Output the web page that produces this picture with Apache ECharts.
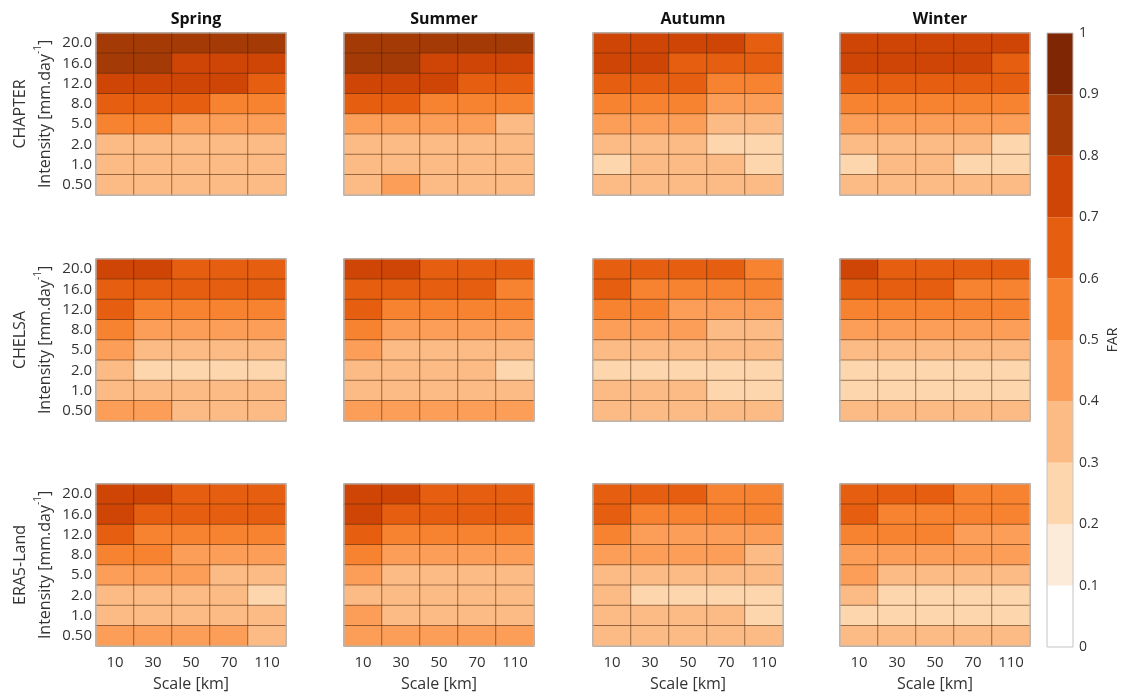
<!DOCTYPE html>
<html>
<head>
<meta charset="utf-8">
<script src="https://cdn.jsdelivr.net/npm/echarts@6/dist/echarts.min.js"></script>
<style>
  html, body { margin: 0; padding: 0; background: #fff; }
  #chart { width: 1121px; height: 698px; }
</style>
</head>
<body>
<div id="chart"></div>
<script>
// Axis categories
const scales = ['10', '30', '50', '70', '110'];
// Intensity rows listed from top (20.0) to bottom (0.50)
const intensities = ['20.0', '16.0', '12.0', '8.0', '5.0', '2.0', '1.0', '0.50'];
const seasons = ['Spring', 'Summer', 'Autumn', 'Winter'];
const products = ['CHAPTER', 'CHELSA', 'ERA5-Land'];

// FAR colour classes (0 to 1 in steps of 0.1)
const farEdges = [0, 0.1, 0.2, 0.3, 0.4, 0.5, 0.6, 0.7, 0.8, 0.9, 1];
const farColors = ['#ffffff', '#fdebd9', '#fdd6ae', '#fcbb84', '#fc9e57',
                   '#f7822f', '#e65e0f', '#cf4506', '#a43a05', '#7f2704'];

// FAR values, one row per intensity (top to bottom), one column per scale
const chapterSpring = [
  [0.85, 0.85, 0.85, 0.85, 0.85],
  [0.85, 0.85, 0.75, 0.75, 0.75],
  [0.75, 0.75, 0.75, 0.75, 0.65],
  [0.65, 0.65, 0.65, 0.55, 0.55],
  [0.55, 0.55, 0.45, 0.45, 0.45],
  [0.35, 0.35, 0.35, 0.35, 0.35],
  [0.35, 0.35, 0.35, 0.35, 0.35],
  [0.35, 0.35, 0.35, 0.35, 0.35]
];
const chapterSummer = [
  [0.85, 0.85, 0.85, 0.85, 0.85],
  [0.85, 0.85, 0.75, 0.75, 0.75],
  [0.75, 0.75, 0.75, 0.65, 0.65],
  [0.65, 0.65, 0.55, 0.55, 0.55],
  [0.45, 0.45, 0.45, 0.45, 0.35],
  [0.35, 0.35, 0.35, 0.35, 0.35],
  [0.35, 0.35, 0.35, 0.35, 0.35],
  [0.35, 0.45, 0.35, 0.35, 0.35]
];
const chapterAutumn = [
  [0.75, 0.75, 0.75, 0.75, 0.65],
  [0.75, 0.75, 0.65, 0.65, 0.65],
  [0.65, 0.65, 0.65, 0.55, 0.55],
  [0.55, 0.55, 0.55, 0.45, 0.45],
  [0.45, 0.45, 0.45, 0.35, 0.35],
  [0.35, 0.35, 0.35, 0.25, 0.25],
  [0.25, 0.35, 0.35, 0.35, 0.25],
  [0.35, 0.35, 0.35, 0.35, 0.35]
];
const chapterWinter = [
  [0.75, 0.75, 0.75, 0.75, 0.75],
  [0.75, 0.75, 0.75, 0.75, 0.65],
  [0.65, 0.65, 0.65, 0.65, 0.65],
  [0.55, 0.55, 0.55, 0.55, 0.55],
  [0.45, 0.45, 0.45, 0.45, 0.45],
  [0.35, 0.35, 0.35, 0.35, 0.25],
  [0.25, 0.35, 0.35, 0.25, 0.25],
  [0.35, 0.35, 0.35, 0.35, 0.35]
];
const chelsaSpring = [
  [0.75, 0.75, 0.65, 0.65, 0.65],
  [0.65, 0.65, 0.65, 0.65, 0.65],
  [0.65, 0.55, 0.55, 0.55, 0.55],
  [0.55, 0.45, 0.45, 0.45, 0.45],
  [0.45, 0.35, 0.35, 0.35, 0.35],
  [0.35, 0.25, 0.25, 0.25, 0.25],
  [0.35, 0.35, 0.35, 0.35, 0.35],
  [0.45, 0.45, 0.35, 0.35, 0.35]
];
const chelsaSummer = [
  [0.75, 0.75, 0.65, 0.65, 0.65],
  [0.65, 0.65, 0.65, 0.65, 0.55],
  [0.65, 0.55, 0.55, 0.55, 0.55],
  [0.55, 0.45, 0.45, 0.45, 0.45],
  [0.45, 0.35, 0.35, 0.35, 0.35],
  [0.35, 0.35, 0.35, 0.35, 0.25],
  [0.35, 0.35, 0.35, 0.35, 0.35],
  [0.45, 0.45, 0.45, 0.45, 0.45]
];
const chelsaAutumn = [
  [0.65, 0.65, 0.65, 0.65, 0.55],
  [0.65, 0.55, 0.55, 0.55, 0.55],
  [0.55, 0.55, 0.45, 0.45, 0.45],
  [0.45, 0.45, 0.45, 0.35, 0.35],
  [0.35, 0.35, 0.35, 0.35, 0.35],
  [0.25, 0.25, 0.25, 0.25, 0.25],
  [0.35, 0.35, 0.35, 0.25, 0.25],
  [0.35, 0.35, 0.35, 0.35, 0.35]
];
const chelsaWinter = [
  [0.75, 0.65, 0.65, 0.65, 0.65],
  [0.65, 0.65, 0.65, 0.55, 0.55],
  [0.55, 0.55, 0.55, 0.55, 0.55],
  [0.45, 0.45, 0.45, 0.45, 0.45],
  [0.35, 0.35, 0.35, 0.35, 0.35],
  [0.25, 0.25, 0.25, 0.25, 0.25],
  [0.25, 0.25, 0.25, 0.25, 0.25],
  [0.35, 0.35, 0.35, 0.35, 0.35]
];
const era5Spring = [
  [0.75, 0.75, 0.65, 0.65, 0.65],
  [0.75, 0.65, 0.65, 0.65, 0.65],
  [0.65, 0.55, 0.55, 0.55, 0.55],
  [0.55, 0.55, 0.45, 0.45, 0.45],
  [0.45, 0.45, 0.45, 0.35, 0.35],
  [0.35, 0.35, 0.35, 0.35, 0.25],
  [0.35, 0.35, 0.35, 0.35, 0.35],
  [0.45, 0.45, 0.45, 0.45, 0.35]
];
const era5Summer = [
  [0.75, 0.75, 0.65, 0.65, 0.65],
  [0.75, 0.65, 0.65, 0.65, 0.65],
  [0.65, 0.55, 0.55, 0.55, 0.55],
  [0.55, 0.45, 0.45, 0.45, 0.45],
  [0.45, 0.35, 0.35, 0.35, 0.35],
  [0.35, 0.35, 0.35, 0.35, 0.35],
  [0.45, 0.35, 0.35, 0.35, 0.35],
  [0.45, 0.45, 0.45, 0.45, 0.45]
];
const era5Autumn = [
  [0.65, 0.65, 0.65, 0.55, 0.55],
  [0.65, 0.55, 0.55, 0.55, 0.55],
  [0.55, 0.45, 0.45, 0.45, 0.45],
  [0.45, 0.45, 0.45, 0.45, 0.35],
  [0.35, 0.35, 0.35, 0.35, 0.35],
  [0.35, 0.25, 0.25, 0.25, 0.25],
  [0.35, 0.35, 0.35, 0.35, 0.25],
  [0.35, 0.35, 0.35, 0.35, 0.35]
];
const era5Winter = [
  [0.65, 0.65, 0.65, 0.55, 0.55],
  [0.65, 0.55, 0.55, 0.55, 0.55],
  [0.55, 0.55, 0.55, 0.45, 0.45],
  [0.45, 0.45, 0.45, 0.45, 0.45],
  [0.45, 0.35, 0.35, 0.35, 0.35],
  [0.35, 0.25, 0.25, 0.25, 0.25],
  [0.25, 0.25, 0.25, 0.25, 0.25],
  [0.35, 0.35, 0.35, 0.35, 0.35]
];

const panels = [
  [chapterSpring, chapterSummer, chapterAutumn, chapterWinter],
  [chelsaSpring, chelsaSummer, chelsaAutumn, chelsaWinter],
  [era5Spring, era5Summer, era5Autumn, era5Winter]
];

// Panel layout (pixels)
const colLeft = [96, 344, 593, 840];
const rowTop = [33, 259, 484];
const panelW = 190, panelH = 162;
const FONT = 'Open Sans';
const TEXT = '#333333';

const grids = [], xAxes = [], yAxes = [], series = [], titles = [], graphics = [];

products.forEach((prod, r) => {
  seasons.forEach((season, c) => {
    const gi = grids.length;
    grids.push({ left: colLeft[c], top: rowTop[r], width: panelW, height: panelH,
                 containLabel: false });
    xAxes.push({
      type: 'category', gridIndex: gi, data: scales,
      axisLine: { show: false }, axisTick: { show: false }, splitLine: { show: false },
      axisLabel: { show: r === products.length - 1, fontFamily: FONT, fontSize: 15,
                   color: TEXT, margin: 9 },
      name: r === products.length - 1 ? 'Scale [km]' : '',
      nameLocation: 'middle', nameGap: 30,
      nameTextStyle: { fontFamily: FONT, fontSize: 16, color: TEXT }
    });
    yAxes.push({
      type: 'category', gridIndex: gi, data: intensities, inverse: true,
      axisLine: { show: false }, axisTick: { show: false }, splitLine: { show: false },
      axisLabel: { show: c === 0, fontFamily: FONT, fontSize: 15, color: TEXT, margin: 4 },
      name: c === 0 ? prod + '\nIntensity [mm.day{sup|-1}]' : '',
      nameLocation: 'middle', nameRotate: 90, nameGap: 38,
      nameTextStyle: {
        fontFamily: FONT, fontSize: 16, color: TEXT, lineHeight: 25,
        rich: { sup: { fontFamily: FONT, fontSize: 10, color: TEXT, verticalAlign: 'top', lineHeight: 14 } }
      }
    });
    const values = panels[r][c];
    const data = [];
    values.forEach((row, yi) => row.forEach((v, xi) => data.push([xi, yi, v])));
    series.push({
      type: 'heatmap', xAxisIndex: gi, yAxisIndex: gi, data: data,
      itemStyle: { borderColor: 'rgba(70,35,10,0.62)', borderWidth: 0.8 },
      emphasis: { disabled: true }
    });
    // light outline around each panel
    graphics.push({
      type: 'rect', z: 100, silent: true,
      shape: { x: colLeft[c], y: rowTop[r], width: panelW, height: panelH },
      style: { fill: 'none', stroke: '#c4c4c4', lineWidth: 1.2 }
    });
    if (r === 0) {
      titles.push({
        text: season, left: colLeft[c] + panelW / 2, top: 6, textAlign: 'center',
        textStyle: { fontFamily: FONT, fontSize: 16, fontWeight: 'bold', color: '#111' }
      });
    }
  });
});

// Colour bar built as stacked segments on a value axis
const cbIndex = grids.length;
grids.push({ left: 1047, top: 33, width: 26, height: 614 });
xAxes.push({ type: 'category', gridIndex: cbIndex, data: [''], show: false });
yAxes.push({
  type: 'value', gridIndex: cbIndex, min: 0, max: 1, interval: 0.1, position: 'right',
  axisLine: { show: false }, axisTick: { show: false }, splitLine: { show: false },
  axisLabel: { fontFamily: FONT, fontSize: 14, color: TEXT, margin: 6,
               formatter: v => (v === 0 || v === 1) ? String(v) : v.toFixed(1) },
  name: 'FAR', nameLocation: 'middle', nameRotate: 90, nameGap: 33,
  nameTextStyle: { fontFamily: FONT, fontSize: 14, color: TEXT }
});
const heatCount = series.length;
farColors.forEach((col, i) => {
  series.push({
    type: 'bar', xAxisIndex: cbIndex, yAxisIndex: cbIndex, stack: 'cbar',
    barWidth: '100%', data: [+(farEdges[i + 1] - farEdges[i]).toFixed(2)],
    itemStyle: { color: col }, silent: true
  });
});
graphics.push({
  type: 'rect', z: 100, silent: true,
  shape: { x: 1047, y: 33, width: 26, height: 614 },
  style: { fill: 'none', stroke: '#c4c4c4', lineWidth: 1 }
});

const pieces = farColors.map((col, i) => ({ gte: farEdges[i], lt: farEdges[i + 1], color: col }));

const chart = echarts.init(document.getElementById('chart'), null, { renderer: 'canvas' });
chart.setOption({
  animation: false,
  backgroundColor: '#ffffff',
  textStyle: { fontFamily: FONT },
  title: titles,
  grid: grids,
  xAxis: xAxes,
  yAxis: yAxes,
  visualMap: {
    type: 'piecewise', show: false, dimension: 2,
    seriesIndex: Array.from({ length: heatCount }, (_, i) => i),
    pieces: pieces
  },
  series: series,
  graphic: graphics
});
</script>
</body>
</html>
